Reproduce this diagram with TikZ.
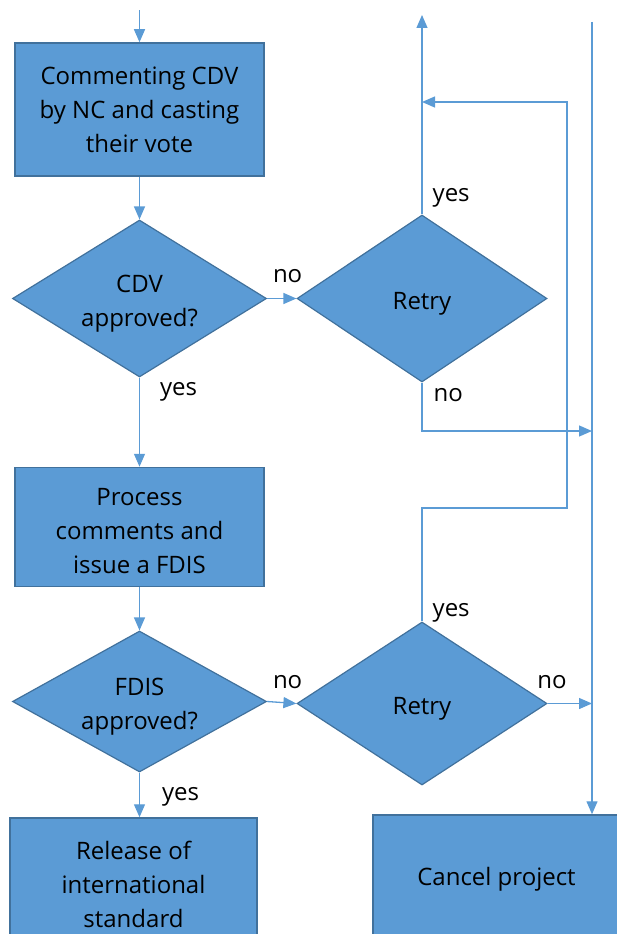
\documentclass[tikz,border=0pt]{standalone}
\usepackage{fontspec}
\setmainfont{Open Sans}
\usetikzlibrary{arrows.meta,positioning,shapes.geometric}
\definecolor{fillc}{HTML}{5B9BD5}
\definecolor{edgec}{HTML}{41719C}
\definecolor{wire}{HTML}{5B9BD5}
\tikzset{
  box/.style={draw=edgec,line width=1.5pt,fill=fillc,align=center,inner sep=0pt,
    font=\fontsize{24}{34}\selectfont,minimum width=249pt,minimum height=133pt},
  choice/.style={diamond,aspect=1.8,draw=edgec,line width=1.2pt,fill=fillc,align=center,
    inner sep=0pt,font=\fontsize{24}{34}\selectfont},
  textdrop/.style={execute at begin node={\rule{0pt}{#1}}},
  ar/.style={-{Triangle[length=13pt,width=11pt]},line width=1.3pt,draw=wire},
  tag/.style={font=\fontsize{24}{28}\selectfont,inner sep=0pt},
}

\begin{document}
\begin{tikzpicture}[x=1pt,y=1pt]
  \useasboundingbox (0,0) rectangle (616,-934);
  % left column
  \node[box] (vote) at (139.5,-109.5) {Commenting CDV\\by NC and casting\\their vote};
  \node[choice,textdrop=62pt,minimum width=254pt,minimum height=157pt] (cdv) at (139.5,-298.5) {CDV\\approved?};
  \node[box,textdrop=94pt,minimum height=119pt] (fdis) at (139.5,-527) {Process\\comments and\\issue a FDIS};
  \node[choice,textdrop=62pt,minimum width=254pt,minimum height=141pt] (appr) at (139.5,-701.5) {FDIS\\approved?};
  \node[box,minimum width=247pt,minimum height=132pt] (release) at (133.5,-884) {Release of\\international\\standard};
  % right column
  \node[choice,textdrop=28pt,minimum width=250pt,minimum height=167pt] (retry1) at (422,-298.5) {Retry};
  \node[choice,textdrop=28pt,minimum width=250pt,minimum height=163pt] (retry2) at (422,-703.5) {Retry};
  \node[box,minimum width=247pt,minimum height=128pt] (cancel) at (496.5,-879) {Cancel project};
  % free ends
  \coordinate (entry) at ([yshift=32pt]vote.north);
  \coordinate (exit) at (422,-15);
  \coordinate (railtop) at (592,-22);
  \coordinate (turn) at (567,-508);
  \coordinate (bend) at (567,-102);
  \coordinate (railin) at (592,-431);

  \draw[ar] (entry) -- (vote.north);
  \draw[ar] (vote.south) -- (cdv.north);
  \draw[ar] (cdv.east) -- node[tag,pos=0.7,above=15pt] {no} (retry1.west);
  \draw[ar] (cdv.south) -- node[tag,pos=0,below right=4pt and 20pt] {yes} (fdis.north);
  \draw[ar] (fdis.south) -- (appr.north);
  \draw[ar] (appr.east) -- node[tag,pos=0.7,above=14pt] {no} (retry2.west);
  \draw[ar] (appr.south) -- node[tag,pos=0,below right=14.5pt and 22pt] {yes} (appr.south |- release.north);
  \draw[ar] (retry1.north) -- node[tag,pos=0,above right=6pt and 10pt] {yes} (exit);
  \draw[ar] (retry1.south) |- node[tag,pos=0,below right=5pt and 11pt] {no} (railin);
  \draw[ar] (retry2.north) |- node[tag,pos=0,above right=-2pt and 10pt] {yes} (turn)
    -- (bend) -- (bend -| retry1.north);
  \draw[ar] (retry2.east) -- node[tag,pos=0.1,above=14pt] {no} (retry2.east -| railtop);
  \draw[ar] (railtop) -- (railtop |- cancel.north);
\end{tikzpicture}
\end{document}
